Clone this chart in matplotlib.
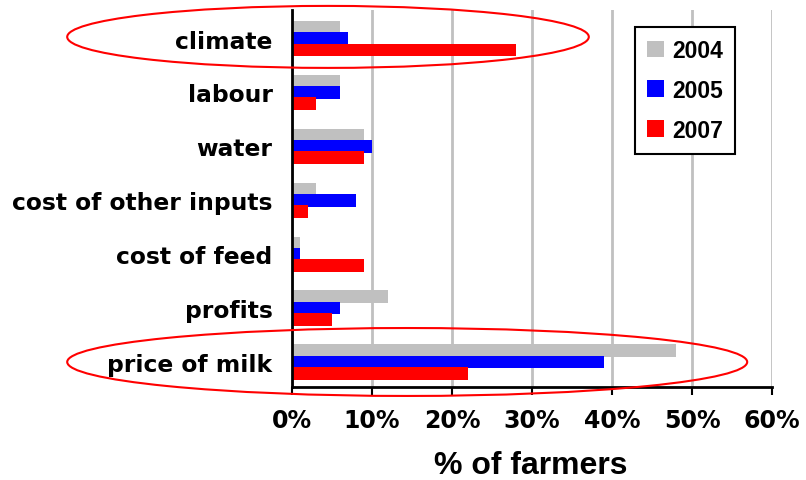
import numpy as np
import matplotlib
matplotlib.use("Agg")
import matplotlib.pyplot as plt
from matplotlib.patches import Ellipse
from matplotlib.font_manager import FontProperties

categories = ["climate", "labour", "water", "cost of other inputs",
              "cost of feed", "profits", "price of milk"]
years = ["2004", "2005", "2007"]
v2004 = [6, 6, 9, 3, 1, 12, 48]
v2005 = [7, 6, 10, 8, 1, 6, 39]
v2007 = [28, 3, 9, 2, 9, 5, 22]
colors = ["#C0C0C0", "#0000FF", "#FF0000"]
xticks = [0, 10, 20, 30, 40, 50, 60]

W, H = 806, 481
fig = plt.figure(figsize=(W / 100, H / 100), dpi=100)
ax = fig.add_axes([292 / W, 1 - 388 / H, 480 / W, 377 / H])

y = np.arange(len(categories))
bh = 0.235
offs = [-0.21, 0.0, 0.21]
for vals, c, o, lab in zip([v2004, v2005, v2007], colors, offs, years):
    ax.barh(y + o, vals, height=bh, color=c, label=lab, zorder=3)

ax.set_xlim(0, 60)
ax.set_ylim(6.464, -0.529)
ax.set_xticks(xticks)
ax.set_xticklabels([f"{t}%" for t in xticks], fontsize=17, fontweight="bold",
                   family="DejaVu Sans")
ax.set_yticks(y)
ax.set_yticklabels(categories, fontsize=16.8, fontweight="bold", family="DejaVu Sans")
ax.tick_params(axis="y", length=0, pad=14)
ax.tick_params(axis="x", length=6, width=1.5, direction="out", pad=9)
ax.grid(axis="x", color="#C0C0C0", lw=2, zorder=0)
for s in ["top", "right"]:
    ax.spines[s].set_visible(False)
ax.spines["left"].set_linewidth(2)
ax.spines["bottom"].set_linewidth(2)
ax.spines["left"].set_zorder(4)

lib_title = FontProperties(family="Liberation Sans", weight="bold", size=23)
lib_leg = FontProperties(family="Liberation Sans", weight="bold", size=16.5)

fig.text(531 / W, 1 - 466 / H, "% of farmers", ha="center", va="center",
         fontproperties=lib_title)

leg = ax.legend(loc="upper left", bbox_to_anchor=(635 / W, 1 - 28 / H),
                bbox_transform=fig.transFigure, borderaxespad=0,
                prop=lib_leg,
                handlelength=0.75, handleheight=0.75, labelspacing=0.74,
                fancybox=False, framealpha=1, edgecolor="black",
                borderpad=0.52, handletextpad=0.35)
leg.get_frame().set_linewidth(1.5)

# red highlight ellipses around climate and price of milk
ax.add_patch(Ellipse((4.5, -0.03), 65.2, 1.15, fill=False, edgecolor="#FF0000",
                     lw=1.5, clip_on=False, zorder=5))
ax.add_patch(Ellipse((14.4, 6.0), 85.0, 1.26, fill=False, edgecolor="#FF0000",
                     lw=1.5, clip_on=False, zorder=5))

fig.savefig("out.png", dpi=100)
